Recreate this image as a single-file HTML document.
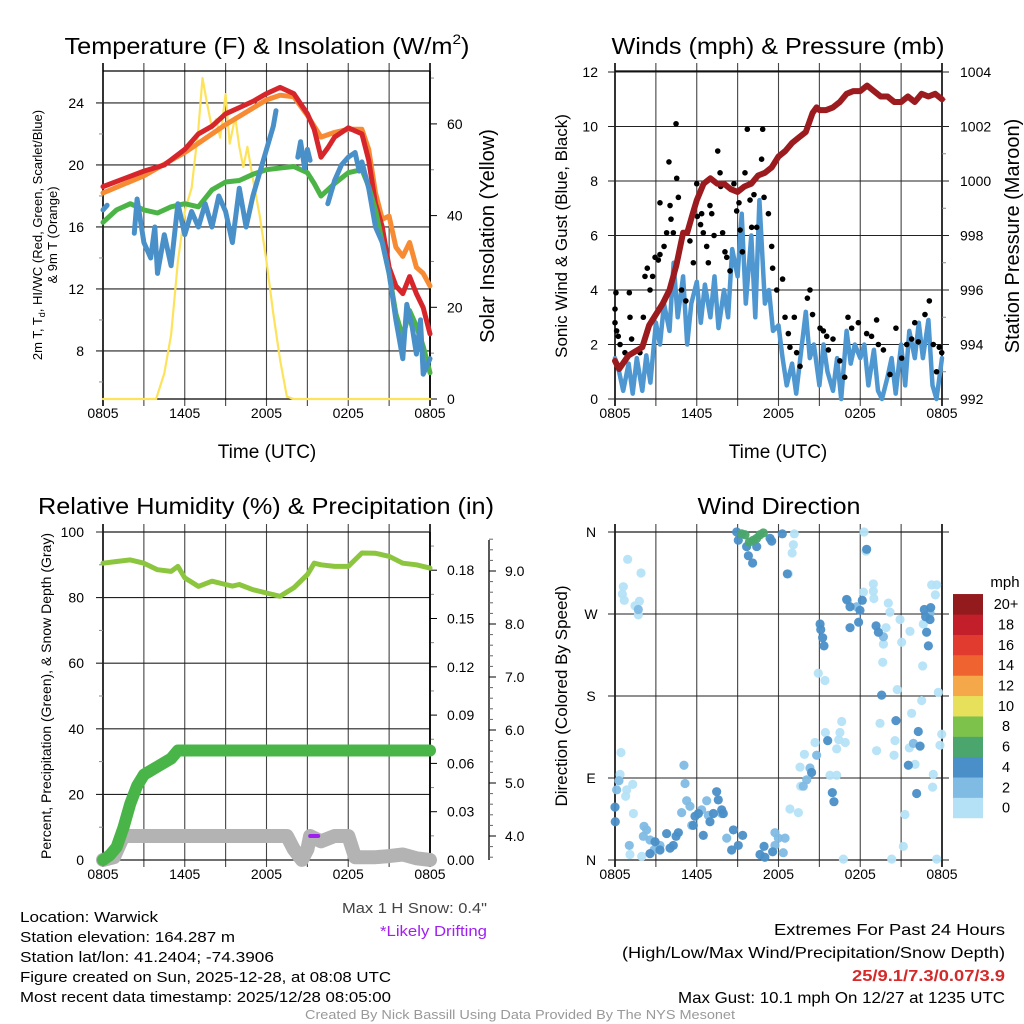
<!DOCTYPE html>
<html><head><meta charset="utf-8">
<style>
html,body{margin:0;padding:0;background:#fff;}
svg{display:block;font-family:"Liberation Sans",sans-serif;}
</style></head>
<body>
<svg id="fig" width="1024" height="1024" viewBox="0 0 1024 1024" xmlns="http://www.w3.org/2000/svg">
<rect width="1024" height="1024" fill="#fff"/>
<text x="267" y="54" font-size="23" text-anchor="middle" textLength="405" lengthAdjust="spacingAndGlyphs">Temperature (F) &amp; Insolation (W/m<tspan font-size="14" dy="-10">2</tspan><tspan dy="10">)</tspan></text>
<text x="778" y="54" font-size="23" text-anchor="middle" textLength="333" lengthAdjust="spacingAndGlyphs">Winds (mph) &amp; Pressure (mb)</text>
<text x="266" y="514" font-size="23" text-anchor="middle" textLength="456" lengthAdjust="spacingAndGlyphs">Relative Humidity (%) &amp; Precipitation (in)</text>
<text x="779" y="514" font-size="23" text-anchor="middle" textLength="163" lengthAdjust="spacingAndGlyphs">Wind Direction</text>
<text x="267" y="458" font-size="19" text-anchor="middle">Time (UTC)</text>
<text x="778" y="458" font-size="19" text-anchor="middle">Time (UTC)</text>
<text transform="translate(42,235) rotate(-90)" font-size="13" text-anchor="middle">2m T, T<tspan font-size="9" dy="3">d</tspan><tspan dy="-3">, HI/WC (Red, Green, Scarlet/Blue)</tspan></text>
<text transform="translate(57,235) rotate(-90)" font-size="13" text-anchor="middle">&amp; 9m T (Orange)</text>
<text transform="translate(494,236) rotate(-90)" font-size="20" text-anchor="middle">Solar Insolation (Yellow)</text>
<text transform="translate(567,236) rotate(-90)" font-size="17" text-anchor="middle">Sonic Wind &amp; Gust (Blue, Black)</text>
<text transform="translate(1019,236) rotate(-90)" font-size="20" text-anchor="middle">Station Pressure (Maroon)</text>
<text transform="translate(51,696) rotate(-90)" font-size="14" text-anchor="middle">Percent, Precipitation (Green), &amp; Snow Depth (Gray)</text>
<text transform="translate(567,696) rotate(-90)" font-size="17" text-anchor="middle">Direction (Colored By Speed)</text>
<text x="487" y="913" font-size="15" text-anchor="end" fill="#444" textLength="145" lengthAdjust="spacingAndGlyphs">Max 1 H Snow: 0.4"</text>
<text x="487" y="936" font-size="15" text-anchor="end" fill="#a020f0" textLength="107" lengthAdjust="spacingAndGlyphs">*Likely Drifting</text>
<g font-size="15">
<text x="20" y="922" textLength="138" lengthAdjust="spacingAndGlyphs">Location: Warwick</text>
<text x="20" y="942" textLength="215" lengthAdjust="spacingAndGlyphs">Station elevation: 164.287 m</text>
<text x="20" y="962" textLength="254" lengthAdjust="spacingAndGlyphs">Station lat/lon: 41.2404; -74.3906</text>
<text x="20" y="982" textLength="371" lengthAdjust="spacingAndGlyphs">Figure created on Sun, 2025-12-28, at 08:08 UTC</text>
<text x="20" y="1002" textLength="371" lengthAdjust="spacingAndGlyphs">Most recent data timestamp: 2025/12/28 08:05:00</text>
</g>
<g font-size="16" text-anchor="end">
<text x="1005" y="935" textLength="231" lengthAdjust="spacingAndGlyphs">Extremes For Past 24 Hours</text>
<text x="1005" y="958" textLength="383" lengthAdjust="spacingAndGlyphs">(High/Low/Max Wind/Precipitation/Snow Depth)</text>
<text x="1005" y="981" fill="#d42a2a" font-weight="bold" textLength="153" lengthAdjust="spacingAndGlyphs">25/9.1/7.3/0.07/3.9</text>
<text x="1005" y="1003" textLength="327" lengthAdjust="spacingAndGlyphs">Max Gust: 10.1 mph On 12/27 at 1235 UTC</text>
</g>
<text x="520" y="1019" font-size="13" fill="#999" text-anchor="middle" textLength="430" lengthAdjust="spacingAndGlyphs">Created By Nick Bassill Using Data Provided By The NYS Mesonet</text>
<g id="layer"></g>
</svg>
<script>
// ---------- DATA ----------
const timeLabels = ["0805","1405","2005","0205","0805"];
const tempTicks = [8,12,16,20,24];
const solarTicks = [0,20,40,60];
const windTicks = [0,2,4,6,8,10,12];
const pressTicks = [992,994,996,998,1000,1002,1004];
const rhTicks = [0,20,40,60,80,100];
const precipTicks = [0,0.03,0.06,0.09,0.12,0.15,0.18];
const precipTickLabels = ["0.00","0.03","0.06","0.09","0.12","0.15","0.18"];
const snowTicks = [4,5,6,7,8,9];
const snowTickLabels = ["4.0","5.0","6.0","7.0","8.0","9.0"];
const dirTicks = [0,90,180,270,360];
const dirTickLabels = ["N","E","S","W","N"];
const speedBins = ["0","2","4","6","8","10","12","14","16","18","20+"];
const speedColors = ["#b5e1f7","#80bbe4","#4a8fc7","#4aa66c","#7dc24a","#e7e05a","#f5a84a","#ef6330","#e03b2e","#c21f2a","#931b1e"];

const redH = [0,3,4.5,6,7,8,9,10,11,12,13,14,15,15.5,16,16.5,17,18,19,19.5,20,20.5,21,21.5,22,22.5,23,23.5,24];
const redT = [18.6,19.6,20.0,21.0,22.0,22.5,23.3,23.7,24.1,24.6,25.0,24.6,23.3,22.3,20.5,21.1,21.8,22.4,22.0,20.3,17.5,16.0,13.4,12.2,11.7,12.8,11.7,10.8,9.1];
const orangeH = [0,3,6,9,12,13,14,15,15.5,16,17,18,19,19.5,20,20.5,21,21.5,22,22.5,23,23.5,24];
const orangeT = [18.2,19.3,20.8,22.6,24.2,24.5,24.4,23.2,22.5,21.8,22.1,22.3,22.3,21.0,18.2,16.5,16.7,14.7,14.1,15.0,13.4,13.0,12.2];
const greenH = [0,1,2,3,4,5,6,7,8,9,10,11,12,13,14,15,15.5,16,16.5,17,18,19,19.5,20,20.5,21,21.5,22,22.5,23,23.5,24];
const greenT = [16.3,17.1,17.5,17.1,16.9,17.3,17.5,17.3,18.4,18.9,19.0,19.4,19.7,19.8,19.9,19.5,18.8,18.0,18.4,18.8,19.5,19.7,18.6,17.1,15.0,13.0,10.4,8.9,10.6,9.6,8.3,6.6];
const blueH = [0,0.3,null,2.3,2.5,3,3.5,3.8,4,4.5,5,5.5,6,6.5,7,7.5,8,8.5,9,9.5,10,10.5,11,11.5,12,12.5,12.7,null,14.3,14.5,14.8,15,15.2,null,16.5,17,17.5,18,18.5,18.8,19,19.5,20,20.5,21,21.5,22,22.3,22.7,23,23.3,23.5,24];
const blueT = [17.1,17.4,null,15.6,17.8,15.0,14.0,16.0,13.0,15.5,13.5,17.5,15.5,17.0,16.0,17.5,16.0,18.0,17.0,15.0,18.5,16.0,18.0,19.5,21.0,22.5,23.5,null,20.5,21.5,19.8,21.0,20.3,null,17.5,19.0,20.0,20.5,20.8,19.6,20.2,18.5,16.0,15.0,13.0,10.0,7.5,11.0,9.5,7.8,10.0,6.5,7.5];
const solarH = [0,3.9,4.5,5,5.5,6,6.5,7,7.3,7.6,8,8.3,8.6,9,9.3,9.7,10,10.3,10.6,11,11.5,12,12.5,13,13.5,14,24];
const solarW = [0,0,5.6,14,30,41,46,59,70,65,59,61,57,66.5,55.7,61.5,55,50.6,55,48,40,30,18.6,8.5,0.5,0,0];

const pressH = [0,0.3,1,2,2.5,3,3.5,4,4.5,5,5.3,5.7,6,6.5,7,7.5,8,8.5,9,9.5,10,10.5,11,11.5,12,12.5,13,13.5,14,14.5,14.8,15,15.5,16,16.5,17,17.5,18,18.5,19,19.5,20,20.5,21,21.5,22,22.5,23,23.5,24];
const pressMb = [993.4,993.1,993.6,993.9,994.7,995.1,995.5,996.0,996.9,998.1,998.1,998.8,999.3,999.9,1000.1,999.9,999.9,999.7,999.6,999.8,999.9,1000.2,1000.3,1000.5,1000.9,1001.1,1001.4,1001.6,1001.8,1002.5,1002.7,1002.6,1002.6,1002.7,1002.9,1003.2,1003.3,1003.3,1003.5,1003.3,1003.1,1003.1,1002.9,1002.9,1003.1,1002.9,1003.2,1003.1,1003.2,1003.0];
const windH = [0,0.3,0.6,1,1.3,1.6,2,2.3,2.6,3,3.3,3.6,4,4.3,4.6,5,5.3,5.6,6,6.3,6.6,7,7.3,7.6,8,8.3,8.6,9,9.3,9.6,10,10.3,10.6,11,11.3,11.6,12,12.3,12.6,13,13.3,13.6,14,14.3,14.6,15,15.3,15.6,16,16.3,16.6,17,17.3,17.6,18,18.3,18.6,19,19.3,19.6,20,20.3,20.6,21,21.3,21.6,22,22.3,22.6,23,23.3,23.6,24];
const windV = [1.5,1.0,0.3,1.3,0.2,1.5,0.3,1.6,0.6,2.8,2.0,3.5,2.5,5.0,3.0,4.5,2.0,3.5,4.3,2.8,4.2,3.0,4.5,2.6,4.0,3.0,5.5,4.5,6.8,3.5,6.0,3.0,7.3,3.5,4.0,2.5,2.7,1.5,0.5,1.3,0.2,1.5,3.2,1.5,2.0,0.5,2.0,1.0,0.3,1.5,0.0,2.5,1.3,2.0,1.5,2.0,0.5,1.8,0.3,0.0,0.8,1.5,0.2,2.0,0.5,2.5,1.5,2.8,1.5,2.9,0.5,0.0,1.5];
const gustH = [0,0.07,0,0.12,0.24,0.37,1.05,1.1,1.22,0.73,1.83,2.08,2.2,2.37,2.57,2.76,2.94,3.18,3.3,3.6,3.3,3.79,3.96,4.04,4.11,4.28,4.48,4.53,4.65,4.89,5.2,5.5,5.75,6.0,6.04,6.28,6.36,6.48,6.73,6.85,6.97,7.1,7.27,7.54,7.71,7.76,7.9,8.07,8.2,8.44,8.73,8.93,9.1,9.18,9.35,9.54,9.71,9.91,10.03,10.2,10.4,10.5,10.76,10.84,10.94,11.26,11.5,11.57,11.87,12.3,12.48,12.72,12.84,13.16,13.33,13.58,14.12,14.31,14.5,15.05,15.29,15.54,15.66,16.0,16.5,16.86,17.1,17.37,17.86,18.47,18.83,19.2,19.33,19.7,20.18,20.62,21.04,21.41,21.77,22.0,22.26,22.75,23.07,23.36,23.6,23.8,23.98];
const gustV = [3.3,3.9,2.8,2.5,2.3,2.0,3.9,3.0,2.2,1.7,1.7,3.0,4.5,4.8,4.0,4.5,5.2,5.1,5.3,5.6,7.2,6.1,8.7,7.1,6.6,6.1,10.1,8.1,7.4,4.0,3.6,5.8,5.0,7.9,6.7,6.4,6.8,6.1,5.6,5.0,7.1,6.8,6.0,9.1,8.3,7.8,6.1,5.4,5.2,4.7,7.9,6.9,7.2,6.2,5.4,8.3,9.9,7.3,6.3,7.5,6.3,8.2,8.8,9.9,7.4,6.8,5.6,4.8,4.0,4.4,3.0,2.4,1.9,3.0,1.7,1.2,3.7,4.0,3.1,2.6,2.5,2.3,1.8,2.2,1.4,0.8,3.0,2.6,2.8,2.4,2.3,2.9,2.0,1.8,0.9,2.6,1.5,2.0,2.2,2.8,2.1,3.1,3.6,2.0,1.0,1.9,1.7];

const rhH = [0,1,2,3,4,5,5.5,6,7,8,9,9.5,10,11,12,13,14,15,15.5,16,17,18,19,20,21,22,23,24];
const rhV = [90.5,91,91.5,90.5,88.5,88,89.5,86,83.4,85,84,83.5,84,82.4,81.4,80.4,83,87,90.5,90,89.5,89.5,93.6,93.5,92.6,90.5,90,89];
const precipH = [0,0.5,1,1.5,2,2.5,3,4,5,5.5,6,24];
const precipV = [0,0.003,0.008,0.02,0.035,0.046,0.053,0.058,0.063,0.068,0.068,0.068];
const snowH = [0,0.8,1.5,13.5,14,14.6,15,15.2,16,17,18,18.5,19,20,21,22,23,24];
const snowV = [3.55,3.6,4.0,4.0,3.75,3.55,3.75,4.0,3.9,4.0,4.0,3.6,3.6,3.6,3.62,3.65,3.58,3.55];
const driftH = [15.5];
const driftS = [4.0];

const dirH = [0.93,1.91,0.61,0.54,0.68,1.47,1.79,1.71,0.44,0.37,1.30,0.86,0.78,1.35,1.1,1.96,13.16,13.09,13.0,12.72,14.92,15.41,18.23,18.96,19.0,19.89,19.7,19.65,20.06,20.18,20.92,21.65,21.04,22.58,22.63,23.51,23.24,23.61,23.73,23.98,23.85,22.51,21.77,20.72,19.45,19.2,20.55,20.48,21.6,22.02,21.28,21.16,23.36,23.31,23.61,20.31,16.76,15.78,16.27,16.42,16.9,16.27,16.64,16.51,15.44,14.68,13.9,13.58,13.63,12.84,13.46,18.28,18.42,18.96,
1.71,0.29,0.12,2.13,2.32,2.08,2.57,2.86,3.3,1.05,4.89,5.06,5.14,5.26,5.5,5.63,6.36,6.73,6.85,7.83,8.2,11.74,11.99,12.48,12.35,11.74,13.82,14.07,14.31,14.8,17.05,17.74,19.7,23.12,21.9,
8.93,9.05,9.66,9.79,10.1,10.4,11.38,11.5,12.28,12.65,15.05,15.1,15.24,15.34,17.0,17.25,17.25,17.98,17.88,18.15,18.47,19.16,19.33,22.7,22.8,23.12,23.17,22.87,23.0,19.57,20.62,22.26,22.39,21.53,22.14,15.61,15.95,16.07,14.43,7.46,7.58,7.83,7.95,7.22,6.97,6.48,6.12,5.87,5.75,4.65,4.48,4.28,4.04,3.79,3.3,2.94,2.57,8.69,8.56,9.05,9.37,10.64,10.94,11.0,11.57,0,0.02,
9.3,9.54,9.86,10.15,10.4,10.64,10.89];
const dirDeg = [330,315,300,292,285,279,284,269,118,94,83,77,70,51,6,4,358,346,337,314,205,197,294,303,287,255,237,217,282,272,264,251,239,213,259,291,302,302,184,138,126,175,161,187,150,120,131,115,123,105,50,15,94,80,1,1,1,93,93,132,129,122,152,140,140,129,116,102,81,56,52,360,339,295,
275,87,77,37,33,26,22,11,16,16,52,104,84,65,59,38,55,65,49,51,24,30,24,24,8,16,81,88,101,115,285,278,245,271,128,
360,351,344,334,326,344,353,350,358,314,259,253,244,235,286,278,255,274,261,285,341,257,250,275,267,264,277,250,235,181,153,141,125,104,73,131,74,64,96,75,66,55,51,51,42,27,51,48,38,30,26,16,13,29,11,20,7,33,11,16,27,6,15,3,9,58,42,
358,357,349,351,353,357,359];
const dirSpeed = [1,1,1,1,1,1,1,1,1,1,1,1,1,1,1,1,1,1,1,1,1,1,1,1,1,1,1,1,1,1,1,1,1,1,1,1,1,1,1,1,1,1,1,1,1,1,1,1,1,1,1,1,1,1,1,1,1,1,1,1,1,1,1,1,1,1,1,1,1,1,1,1,1,1,
3,3,3,3,3,3,3,3,3,3,3,3,3,3,3,3,3,3,3,3,3,3,3,3,3,3,3,3,3,3,3,3,3,3,3,
5,5,5,5,5,5,5,5,5,5,5,5,5,5,5,5,5,5,5,5,5,5,5,5,5,5,5,5,5,5,5,5,5,5,5,5,5,5,5,5,5,5,5,5,5,5,5,5,5,5,5,5,5,5,5,5,5,5,5,5,5,5,5,5,5,5,5,
7,7,7,7,7,7,7];

// ---------- SCALES ----------
const xT = h => 103 + h * 13.625;
const xW = h => 615 + h * 13.625;
const yT = t => 399 - (t - 4.9) * 15.5;
const ySol = w => 399 - w * 4.585;
const yW = v => 399 - v * 27.25;
const yP = p => 399 - (p - 992) * 27.25;
const yR = r => 860 - r * 3.28;
const yPr = p => 860 - p * 1610;
const ySn = s => 836 - (s - 4) * 53;
const yD = d => 860 - d * 0.9111;

const NS = "http://www.w3.org/2000/svg";
const layer = document.getElementById("layer");
function mk(tag, attrs, name, parent) {
  const el = document.createElementNS(NS, tag);
  for (const k in attrs) el.setAttribute(k, attrs[k]);
  
  
  (parent || layer).appendChild(el);
  return el;
}
function ln(x1, y1, x2, y2, c, w, name) {
  return mk("line", {x1, y1, x2, y2, stroke: c, "stroke-width": w}, name);
}
function tx(x, y, s, size, anchor, name) {
  const t = mk("text", {x, y, "font-size": size, "text-anchor": anchor}, name);
  t.textContent = s;
  return t;
}
function series(hs, vs, xs, ys, color, w, name) {
  let d = "", pen = false;
  for (let i = 0; i < hs.length; i++) {
    if (hs[i] === null || vs[i] === null) { pen = false; continue; }
    d += (pen ? "L" : "M") + xs(hs[i]).toFixed(1) + " " + ys(vs[i]).toFixed(1);
    pen = true;
  }
  return mk("path", {d, fill: "none", stroke: color, "stroke-width": w, "stroke-linejoin": "round", "stroke-linecap": "round"}, name);
}

function timeGrid(x0, top, bot, prefix) {
  for (let i = 0; i <= 8; i++) {
    const x = x0 + i * 40.875;
    ln(x, top - 8, x, bot + 7, (i === 0 || i === 8) ? "#000" : "#444", (i === 0 || i === 8) ? 1.6 : 1.1, prefix + "-time-grid");
  }
  timeLabels.forEach((s, i) => tx(x0 + i * 81.75, bot + 19, s, 14, "middle", prefix + "-time-label"));
  ln(x0, top, x0 + 327, top, "#000", 1.3, prefix + "-top-border");
  ln(x0, bot, x0 + 327, bot, "#000", 1.3, prefix + "-bottom-border");
}

// ---------- PANEL 1 ----------
timeGrid(103, 71, 399, "temp");
tempTicks.forEach(t => { ln(96, yT(t), 430, yT(t), "#222", 1.1, "temp-grid-line"); tx(84, yT(t) + 5, String(t), 14, "end", "temp-tick-label"); });
[6,10,14,18,22].forEach(t => ln(99, yT(t), 103, yT(t), "#888", 1, "temp-minor-tick"));
solarTicks.forEach(w => { ln(430, ySol(w), 437, ySol(w), "#000", 1, "solar-tick"); tx(447, ySol(w) + 5, String(w), 14, "start", "solar-tick-label"); });
[10,30,50,70].forEach(w => ln(430, ySol(w), 434, ySol(w), "#888", 1, "solar-minor-tick"));
ln(430, 71, 430, 399, "#000", 1.6, "solar-axis-line");
series(solarH, solarW, xT, ySol, "#fde35c", 2.2, "solar-insolation-line");
series(orangeH, orangeT, xT, yT, "#f68b33", 5, "9m-temp-line");
series(redH, redT, xT, yT, "#d7262b", 5, "2m-temp-line");
series(greenH, greenT, xT, yT, "#4cb446", 5, "dewpoint-line");
series(blueH, blueT, xT, yT, "#4a90c8", 5, "wind-chill-line");

// ---------- PANEL 2 ----------
timeGrid(615, 71, 399, "wind");
windTicks.forEach(v => { ln(608, yW(v), 949, yW(v), "#222", 1.1, "wind-grid-line"); tx(598, yW(v) + 5, String(v), 14, "end", "wind-tick-label"); });
pressTicks.forEach(p => tx(960, yP(p) + 5, String(p), 14, "start", "pressure-tick-label"));
[993,995,997,999,1001,1003].forEach(p => ln(942, yP(p), 946, yP(p), "#888", 1, "pressure-minor-tick"));
series(windH, windV, xW, yW, "#4f97d1", 4.5, "sonic-wind-line");
gustH.forEach((h, i) => mk("circle", {cx: xW(h), cy: yW(gustV[i]), r: 2.8, fill: "#000"}, "gust-point"));
series(pressH, pressMb, xW, yP, "#9b1b1e", 6, "pressure-line");

// ---------- PANEL 3 ----------
timeGrid(103, 532, 860, "rh");
rhTicks.forEach(r => { ln(96, yR(r), 430, yR(r), "#222", 1.1, "rh-grid-line"); tx(84, yR(r) + 5, String(r), 14, "end", "rh-tick-label"); });
[10,30,50,70,90].forEach(r => ln(99, yR(r), 103, yR(r), "#888", 1, "rh-minor-tick"));
precipTicks.forEach((p, i) => { ln(430, yPr(p), 437, yPr(p), "#000", 1, "precip-tick"); tx(447, yPr(p) + 5, precipTickLabels[i], 14, "start", "precip-tick-label"); });
[0.015,0.045,0.075,0.105,0.135,0.165,0.195].forEach(p => ln(430, yPr(p), 434, yPr(p), "#888", 1, "precip-minor-tick"));
ln(430, 532, 430, 860, "#000", 1.6, "precip-axis-line");
ln(489, 540, 489, 860, "#000", 1.3, "snow-axis-line");
snowTicks.forEach((s, i) => { ln(489, ySn(s), 496, ySn(s), "#000", 1, "snow-tick"); tx(505, ySn(s) + 5, snowTickLabels[i], 14, "start", "snow-tick-label"); });
[3.6,3.8,4.2,4.4,4.6,4.8,5.2,5.4,5.6,5.8,6.2,6.4,6.6,6.8,7.2,7.4,7.6,7.8,8.2,8.4,8.6,8.8,9.2,9.4,9.6].forEach(s => ln(489, ySn(s), 493, ySn(s), "#666", 1, "snow-minor-tick"));
series(snowH, snowV, xT, ySn, "#b3b3b3", 14, "snow-depth-line");
series(precipH, precipV, xT, yPr, "#49b548", 12, "precipitation-line");
series(rhH, rhV, xT, yR, "#8cc63f", 5, "relative-humidity-line");
driftH.forEach((h, i) => mk("line", {x1: xT(h) - 4, y1: ySn(driftS[i]), x2: xT(h) + 4, y2: ySn(driftS[i]), stroke: "#a020f0", "stroke-width": 4, "stroke-linecap": "round"}, "drifting-marker"));

// ---------- PANEL 4 ----------
timeGrid(615, 532, 860, "dir");
dirTicks.forEach((d, i) => { ln(608, yD(d), 949, yD(d), "#222", 1.1, "direction-grid-line"); tx(591, yD(d) + 5, dirTickLabels[i], 14, "middle", "direction-tick-label"); });
dirH.forEach((h, i) => mk("circle", {cx: xW(h), cy: yD(dirDeg[i]), r: 4.6, fill: speedColors[Math.min(10, Math.floor(dirSpeed[i] / 2))], "fill-opacity": 0.95}, "direction-point"));

// legend
tx(1005, 587, "mph", 15, "middle", "legend-title");
speedBins.forEach((s, i) => {
  const y = 818 - (i + 1) * 20.36;
  mk("rect", {x: 953, y: y, width: 30, height: 20.6, fill: speedColors[i]}, "legend-swatch");
  tx(1006, y + 15, s, 14.5, "middle", "legend-label");
});
</script>
</body></html>
